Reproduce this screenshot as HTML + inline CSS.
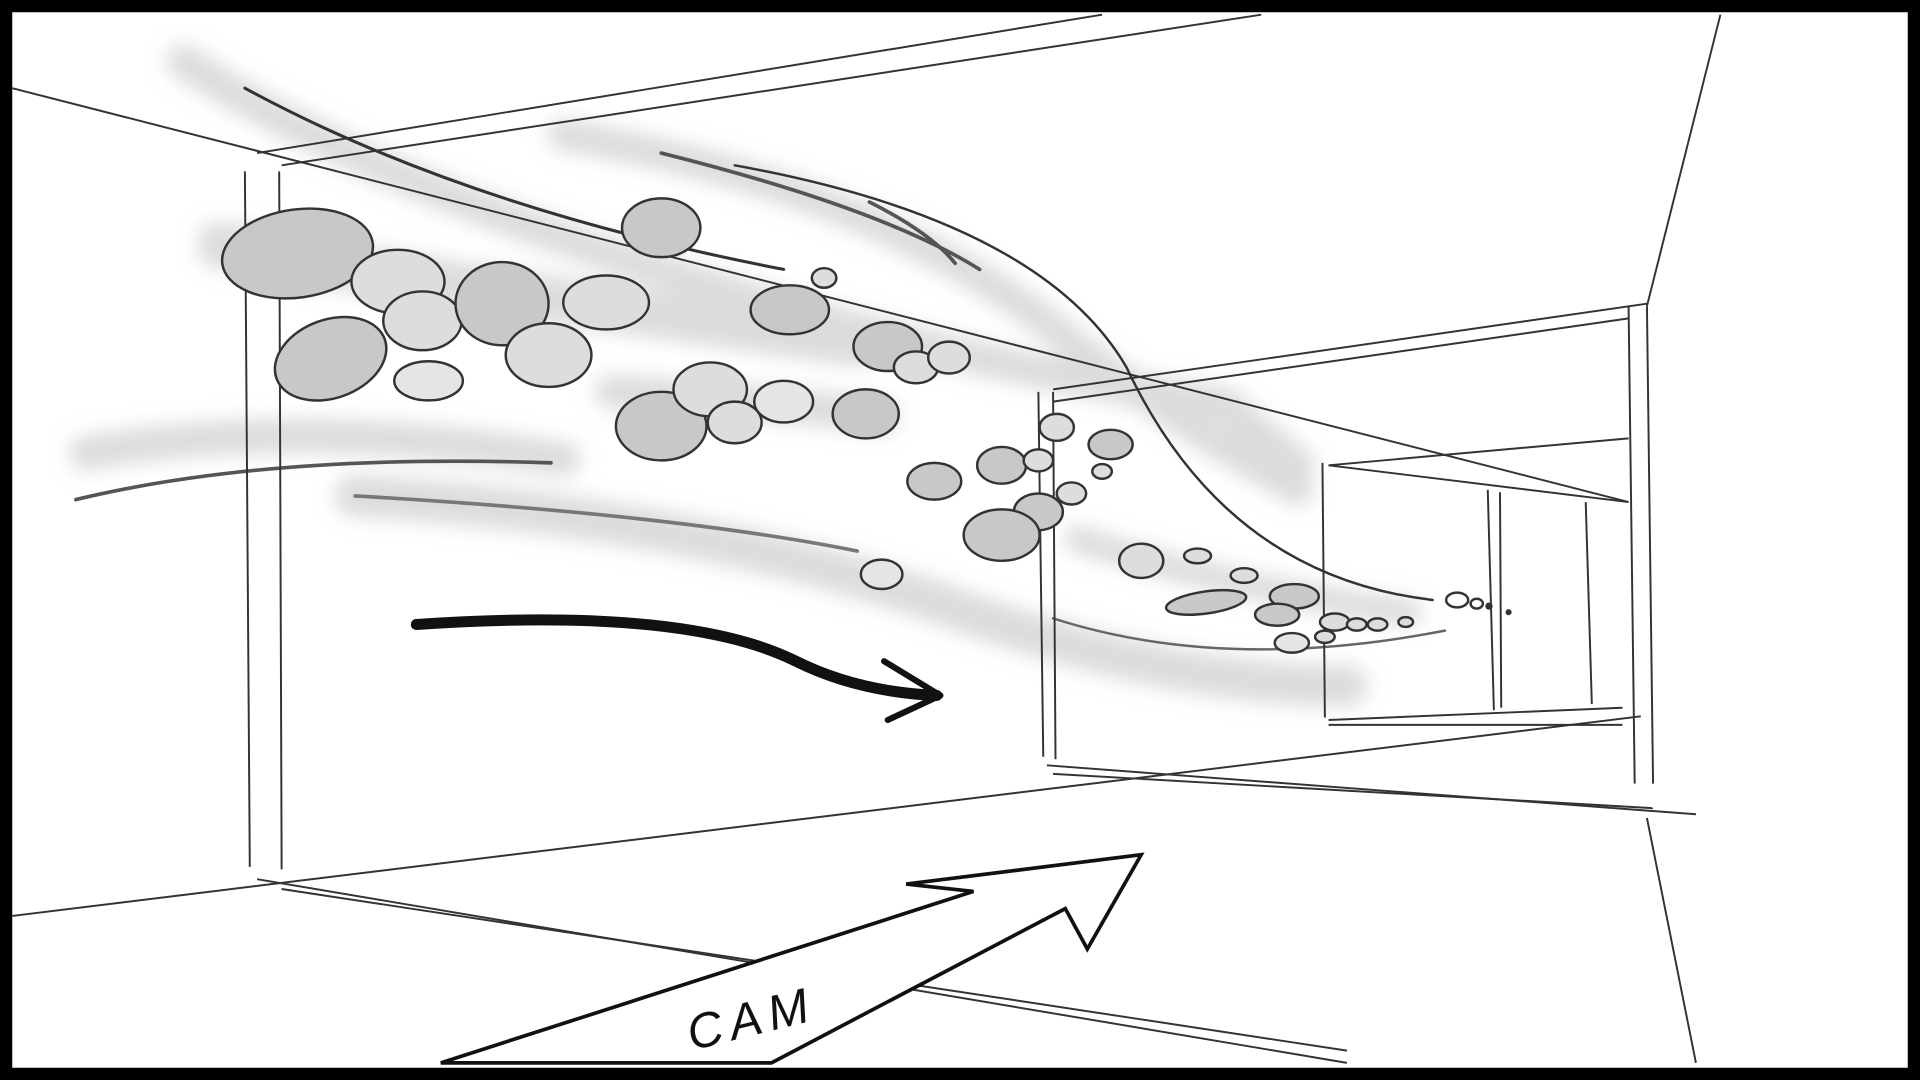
<!DOCTYPE html>
<html><head><meta charset="utf-8"><style>
html,body{margin:0;padding:0;background:#fff;}
svg{display:block;}
</style></head><body>
<svg width="1920" height="1080" viewBox="0 0 1568 882" xmlns="http://www.w3.org/2000/svg">
<defs>
<filter id="b" x="-20%" y="-50%" width="140%" height="200%"><feGaussianBlur stdDeviation="8"/></filter>
</defs>
<rect width="1568" height="882" fill="#fff"/>
<g fill="none" stroke="#dcdcdc" stroke-linecap="round" filter="url(#b)">
<path d="M150 50 Q300 150 600 240 Q800 300 1000 330 L1060 380" stroke-width="28"/>
<path d="M460 110 Q700 150 850 260 Q950 340 1060 400" stroke-width="26"/>
<path d="M70 370 Q250 340 460 375" stroke-width="28"/>
<path d="M290 405 Q550 420 760 490 Q950 560 1100 560" stroke-width="34"/>
<path d="M880 440 Q1000 480 1150 500" stroke-width="22"/>
<path d="M180 200 Q400 240 700 280" stroke-width="38"/>
<path d="M500 320 Q650 330 720 340" stroke-width="28"/>
</g>
<g fill="none" stroke="#333" stroke-linecap="round">
<path d="M200 72 Q380 170 640 220" stroke-width="2.5"/>
<path d="M540 125 Q720 170 800 220" stroke-width="3" stroke="#555"/>
<path d="M710 165 Q760 190 780 215" stroke-width="3" stroke="#555"/>
<path d="M600 135 Q850 180 920 300 Q1000 470 1170 490" stroke-width="2"/>
<path d="M62 408 Q220 370 450 378" stroke-width="3" stroke="#555"/>
<path d="M290 405 Q550 420 700 450" stroke-width="3" stroke="#777"/>
<path d="M860 505 Q1000 550 1180 515" stroke-width="2" stroke="#666"/>
</g>
<g fill="none" stroke="#333" stroke-width="1.6">
<line x1="10" y1="72" x2="1330" y2="410"/>
<line x1="210" y1="125" x2="900" y2="12"/>
<line x1="230" y1="135" x2="1030" y2="12"/>
<line x1="1405" y1="12" x2="1345" y2="250"/>
<line x1="860" y1="318" x2="1345" y2="248"/>
<line x1="860" y1="328" x2="1330" y2="260"/>
<line x1="1330" y1="250" x2="1335" y2="640"/>
<line x1="1345" y1="250" x2="1350" y2="640"/>
<line x1="10" y1="748" x2="1340" y2="585"/>
<line x1="210" y1="718" x2="1100" y2="868"/>
<line x1="230" y1="726" x2="1100" y2="858"/>
<line x1="1345" y1="668" x2="1385" y2="868"/>
<line x1="855" y1="625" x2="1385" y2="665"/>
<line x1="860" y1="632" x2="1350" y2="660"/>
<line x1="200" y1="140" x2="204" y2="708"/>
<line x1="228" y1="140" x2="230" y2="710"/>
<line x1="848" y1="320" x2="852" y2="618"/>
<line x1="860" y1="320" x2="862" y2="620"/>
<line x1="1080" y1="378" x2="1082" y2="586"/>
<line x1="1085" y1="380" x2="1330" y2="410"/>
<line x1="1085" y1="380" x2="1330" y2="358"/>
<line x1="1215" y1="400" x2="1220" y2="580"/>
<line x1="1225" y1="402" x2="1226" y2="578"/>
<line x1="1295" y1="410" x2="1300" y2="575"/>
<line x1="1085" y1="588" x2="1325" y2="578"/>
<line x1="1085" y1="592" x2="1325" y2="592"/>
</g>
<g fill="#c8c8c8" stroke="#333" stroke-width="2">
<ellipse cx="243" cy="207" rx="62" ry="36" transform="rotate(-8 243 207)"/>
<ellipse cx="270" cy="293" rx="47" ry="32" transform="rotate(-20 270 293)"/>
<ellipse cx="325" cy="230" rx="38" ry="26" fill="#ddd"/>
<ellipse cx="345" cy="262" rx="32" ry="24" fill="#ddd"/>
<ellipse cx="410" cy="248" rx="38" ry="34"/>
<ellipse cx="350" cy="311" rx="28" ry="16" fill="#e5e5e5"/>
<ellipse cx="448" cy="290" rx="35" ry="26" fill="#ddd"/>
<ellipse cx="495" cy="247" rx="35" ry="22" fill="#ddd"/>
<ellipse cx="540" cy="186" rx="32" ry="24"/>
<ellipse cx="645" cy="253" rx="32" ry="20"/>
<ellipse cx="673" cy="227" rx="10" ry="8" fill="#ddd"/>
<ellipse cx="540" cy="348" rx="37" ry="28"/>
<ellipse cx="580" cy="318" rx="30" ry="22" fill="#ddd"/>
<ellipse cx="600" cy="345" rx="22" ry="17" fill="#ddd"/>
<ellipse cx="640" cy="328" rx="24" ry="17" fill="#e5e5e5"/>
<ellipse cx="707" cy="338" rx="27" ry="20"/>
<ellipse cx="725" cy="283" rx="28" ry="20"/>
<ellipse cx="748" cy="300" rx="18" ry="13" fill="#ddd"/>
<ellipse cx="775" cy="292" rx="17" ry="13" fill="#ddd"/>
<ellipse cx="763" cy="393" rx="22" ry="15"/>
<ellipse cx="818" cy="380" rx="20" ry="15"/>
<ellipse cx="848" cy="376" rx="12" ry="9" fill="#ddd"/>
<ellipse cx="863" cy="349" rx="14" ry="11" fill="#ddd"/>
<ellipse cx="907" cy="363" rx="18" ry="12"/>
<ellipse cx="900" cy="385" rx="8" ry="6" fill="#ddd"/>
<ellipse cx="875" cy="403" rx="12" ry="9" fill="#ddd"/>
<ellipse cx="848" cy="418" rx="20" ry="15"/>
<ellipse cx="818" cy="437" rx="31" ry="21"/>
<ellipse cx="720" cy="469" rx="17" ry="12" fill="#e5e5e5"/>
<ellipse cx="932" cy="458" rx="18" ry="14" fill="#ddd"/>
<ellipse cx="978" cy="454" rx="11" ry="6" fill="#ddd"/>
<ellipse cx="1016" cy="470" rx="11" ry="6" fill="#ddd"/>
<ellipse cx="985" cy="492" rx="33" ry="9" transform="rotate(-8 985 492)"/>
<ellipse cx="1057" cy="487" rx="20" ry="10"/>
<ellipse cx="1043" cy="502" rx="18" ry="9"/>
<ellipse cx="1055" cy="525" rx="14" ry="8" fill="#e5e5e5"/>
<ellipse cx="1090" cy="508" rx="12" ry="7" fill="#ddd"/>
<ellipse cx="1082" cy="520" rx="8" ry="5" fill="#ddd"/>
<ellipse cx="1108" cy="510" rx="8" ry="5" fill="#ddd"/>
<ellipse cx="1125" cy="510" rx="8" ry="5" fill="#ddd"/>
<ellipse cx="1148" cy="508" rx="6" ry="4" fill="#ddd"/>
<ellipse cx="1190" cy="490" rx="9" ry="6" fill="#fff"/>
<ellipse cx="1206" cy="493" rx="5" ry="4" fill="#fff"/>
<circle cx="1216" cy="495" r="2" fill="#333"/>
<circle cx="1232" cy="500" r="1.5" fill="#333"/>
</g>
<path d="M340 510 Q560 495 650 540 Q700 565 765 568" fill="none" stroke="#111" stroke-width="9" stroke-linecap="round"/>
<path d="M722 540 L768 568 L725 588" fill="none" stroke="#111" stroke-width="5" stroke-linecap="round" stroke-linejoin="round"/>
<polygon points="360,868 795,728 740,722 932,698 888,775 870,742 630,868" fill="#fff" stroke="#111" stroke-width="3"/>
<text x="565" y="858" transform="rotate(-14 565 858)" font-family="Liberation Sans, sans-serif" font-size="40" font-style="italic" fill="#111" letter-spacing="6">CAM</text>
<rect x="5" y="5" width="1558" height="872" fill="none" stroke="#000" stroke-width="10"/>
</svg>
</body></html>
